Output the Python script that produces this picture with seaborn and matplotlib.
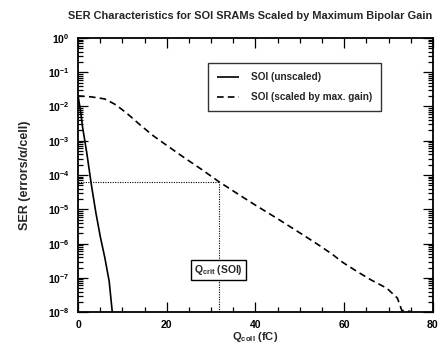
import numpy as np
import pandas as pd
import matplotlib
matplotlib.use("Agg")
import matplotlib.pyplot as plt
import seaborn as sns
from matplotlib.ticker import LogLocator, MultipleLocator, FixedLocator, NullFormatter

# --- data ---
q_unscaled = [0, 0.5, 1, 2, 3, 4, 5, 6, 7, 7.7]
log_ser_unscaled = [-1.7, -2.1, -2.6, -3.4, -4.3, -5.1, -5.8, -6.4, -7.1, -8.0]

q_scaled = [0, 3, 6, 8.5, 11, 14, 17, 20.7, 24, 28, 31.7, 36, 40, 44.8, 50.4, 54, 57.2, 59.7, 63.1, 66.2, 69.6, 72, 73, 75]
log_ser_scaled = [-1.69, -1.72, -1.78, -1.95, -2.2, -2.54, -2.86, -3.2, -3.5, -3.85, -4.19, -4.55, -4.88, -5.26, -5.72, -6.02, -6.3, -6.55, -6.83, -7.07, -7.3, -7.59, -7.95, -7.98]

q_crit = 31.7
ser_crit = 6.4e-5

x_ticks = [0, 20, 40, 60, 80]
y_decades = list(range(-8, 1))

labels = ["SOI (unscaled)", "SOI (scaled by max. gain)"]

df = pd.concat([
    pd.DataFrame({"Q": q_unscaled, "SER": 10.0 ** np.array(log_ser_unscaled), "series": labels[0]}),
    pd.DataFrame({"Q": q_scaled, "SER": 10.0 ** np.array(log_ser_scaled), "series": labels[1]}),
])

sns.set_theme(style="ticks")
plt.rcParams['font.family'] = ['Liberation Sans', 'DejaVu Sans']
plt.rcParams['font.weight'] = 'bold'
plt.rcParams['mathtext.fontset'] = 'custom'
plt.rcParams['mathtext.rm'] = 'Liberation Sans:bold'
plt.rcParams['mathtext.it'] = 'Liberation Sans:bold'
plt.rcParams['mathtext.bf'] = 'Liberation Sans:bold'

fig = plt.figure(figsize=(4.39, 3.48), dpi=100)
ax = fig.add_axes([0.178, 0.103, 0.808, 0.788])

sns.lineplot(data=df, x="Q", y="SER", hue="series", style="series",
             palette=["black", "black"], dashes=[(1, 0), (4, 2.5)],
             linewidth=1.2, ax=ax, sort=False, estimator=None)

# dotted guide lines for Qcrit
ax.plot([0, q_crit], [ser_crit, ser_crit], color="black", linestyle=(0, (1, 1.2)), linewidth=0.8)
ax.plot([q_crit, q_crit], [1e-8, ser_crit], color="black", linestyle=(0, (1, 1.2)), linewidth=0.8)

ax.set_yscale("log")
ax.set_xlim(0, 80)
ax.set_ylim(1e-8, 1)

ax.xaxis.set_major_locator(FixedLocator(x_ticks))
ax.xaxis.set_minor_locator(MultipleLocator(5))
ax.yaxis.set_major_locator(FixedLocator([10.0 ** d for d in y_decades]))
ax.yaxis.set_minor_locator(LogLocator(base=10, subs=np.arange(2, 10), numticks=20))
ax.yaxis.set_minor_formatter(NullFormatter())
ax.set_yticklabels([r"$10^{%d}$" % d for d in y_decades])
ax.set_xticklabels([str(v) for v in x_ticks])

ax.tick_params(which="both", direction="in", top=True, right=True, width=0.9, colors="black")
ax.tick_params(which="major", length=7, labelsize=7.5, pad=6)
ax.tick_params(which="minor", length=3.5)
for s in ax.spines.values():
    s.set_linewidth(1.3)
    s.set_color("black")

ax.set_xlabel(r"Q$_{coll}$ (fC)", fontsize=8, fontweight="bold", labelpad=0)
ax.set_ylabel("SER (errors/α/cell)", fontsize=9, fontweight="bold", labelpad=12)

handles, _ = ax.get_legend_handles_labels()
leg = ax.legend(handles=handles[-2:] if len(handles) > 2 else handles, labels=labels,
                loc="upper left", bbox_to_anchor=(0.352, 0.925), frameon=True,
                fancybox=False, edgecolor="black", fontsize=7.2, handlelength=2.2,
                borderpad=0.9, labelspacing=1.0, handletextpad=1.2)
leg.get_frame().set_linewidth(1.0)
for t in leg.get_texts():
    t.set_fontweight("bold")

ax.text(q_crit, 1.7e-7, r"Q$_{crit}$ (SOI)", ha="center", va="center", fontsize=7.5,
        fontweight="bold",
        bbox=dict(boxstyle="square,pad=0.3", facecolor="white", edgecolor="black", linewidth=1.0))

fig.text(68 / 439, 1 - 16 / 348, "SER Characteristics for SOI SRAMs Scaled by Maximum Bipolar Gain",
         ha="left", va="center", fontsize=7.9, fontweight="bold")

fig.savefig("out.png", dpi=100)
